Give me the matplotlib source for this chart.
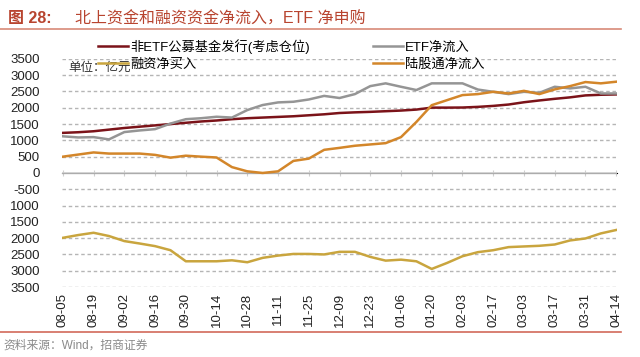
import numpy as np
import pandas as pd
import matplotlib
matplotlib.use('Agg')
import matplotlib.pyplot as plt

plt.rcParams['font.family'] = ['Liberation Sans', 'Noto Sans CJK SC', 'DejaVu Sans']

# weekly dates, 2021-08-05 .. 2022-04-14
dates = pd.date_range('2021-08-05', periods=37, freq='7D').strftime('%m-%d').tolist()

non_etf = [1230, 1250, 1280, 1330, 1380, 1420, 1460, 1500, 1540, 1580, 1610, 1650, 1680, 1700, 1720,
           1740, 1770, 1800, 1840, 1860, 1875, 1895, 1915, 1945, 2005, 2005, 2008, 2028, 2058, 2100,
           2170, 2225, 2275, 2320, 2380, 2400, 2410]
etf = [1125, 1090, 1100, 1030, 1255, 1305, 1345, 1515, 1650, 1680, 1725, 1700, 1930, 2085, 2165,
       2185, 2255, 2365, 2300, 2420, 2665, 2750, 2645, 2545, 2750, 2750, 2750, 2560, 2490, 2420,
       2490, 2460, 2645, 2595, 2645, 2440, 2440]
margin = [-1990, -1905, -1835, -1935, -2090, -2165, -2245, -2370, -2710, -2710, -2710, -2680, -2740,
          -2605, -2535, -2485, -2485, -2500, -2420, -2420, -2575, -2690, -2660, -2710, -2945, -2760,
          -2555, -2430, -2370, -2275, -2255, -2235, -2195, -2070, -2010, -1855, -1750]
northbound = [500, 565, 630, 595, 595, 595, 555, 470, 530, 500, 475, 180, 50, 0, 50,
              370, 440, 710, 770, 835, 875, 915, 1100, 1565, 2080, 2235, 2390, 2420, 2490, 2440,
              2520, 2420, 2565, 2665, 2790, 2750, 2800]

yticks = [3500, 3000, 2500, 2000, 1500, 1000, 500, 0, -500, -1000, -1500, -2000, -2500, -3000, -3500]
ytick_labels = ['3500', '3000', '2500', '2000', '1500', '1000', '500', '0', '-500',
                '1000', '1500', '2000', '2500', '3000', '3500']

fig = plt.figure(figsize=(6.4, 3.57), dpi=100)
ax = fig.add_axes([0.097, 0.196, 0.867, 0.639])

x = np.arange(len(dates))
l1, = ax.plot(x, non_etf, color='#7b1319', lw=1.8, label='非ETF公募基金发行(考虑仓位)')
l2, = ax.plot(x, etf, color='#959595', lw=1.8, label='ETF净流入')
l3, = ax.plot(x, margin, color='#c9a53e', lw=1.8, label='融资净买入')
l4, = ax.plot(x, northbound, color='#d3862a', lw=1.8, label='陆股通净流入')

ax.set_xlim(-0.05, len(dates) - 0.95)
ax.set_ylim(-3500, 3500)
ax.set_yticks(yticks)
ax.set_yticklabels(ytick_labels, fontsize=9.5, color='#222222')
ax.set_xticks(x[::2])
ax.set_xticklabels(dates[::2], rotation=90, fontsize=9.5, color='#222222')
ax.tick_params(axis='both', length=0, pad=4)
ax.tick_params(axis='y', pad=16)

for s in ax.spines.values():
    s.set_visible(False)
# dashed gridlines
for v in yticks:
    if v != 0:
        ax.axhline(v, color='#b5b5b5', ls=(0, (2.5, 2)), lw=1.0, zorder=0.5)
ax.axhline(0, color='#cfcfcf', lw=1.2, zorder=1)
sec = ax.secondary_xaxis(0.5)
sec.set_xticks(x[::2])
sec.set_xticklabels([])
sec.tick_params(length=4, direction='inout', color='#cfcfcf')
sec.spines['bottom'].set_visible(False)

fig.legend(handles=[l1, l3, l2, l4], ncol=2, frameon=False,
           prop={'family': ['Liberation Sans', 'Noto Sans CJK SC'], 'size': 9.5},
           loc='upper left', bbox_to_anchor=(0.145, 0.905), handlelength=2.3, handletextpad=0.15,
           columnspacing=4.75, labelspacing=0.35, borderaxespad=0)
fig.text(0.106, 0.81, '单位：亿元', fontsize=9, color='#333333', va='center')

fig.text(0.012, 0.948, '图 28:', fontsize=11.5, color='#b8442f', fontweight='bold', va='center')
fig.text(0.117, 0.948, '北上资金和融资资金净流入，ETF 净申购', fontsize=11.5, color='#b8442f',
         va='center')
fig.add_artist(plt.Line2D([0.0, 0.97], [0.918, 0.918], color='#d88a78', lw=1.2))
fig.add_artist(plt.Line2D([0.0, 0.97], [0.07, 0.07], color='#d26a5a', lw=1.2))
fig.text(0.005, 0.033, '资料来源：Wind，招商证券', fontsize=8.5, color='#8a8a8a', va='center')

fig.savefig('out.png', dpi=100)
